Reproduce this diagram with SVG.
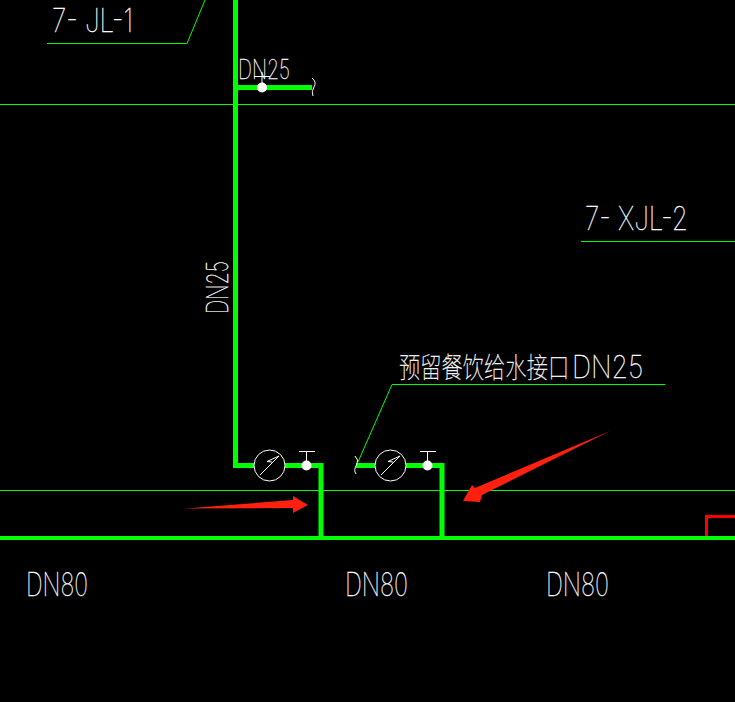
<svg xmlns="http://www.w3.org/2000/svg" width="735" height="702" viewBox="0 0 735 702">
<style>
.t{font-family:"Inter","Liberation Sans","Noto Sans CJK SC",sans-serif;fill:#fff;font-weight:100;stroke:#fff;stroke-width:.35}
.z{font-family:"Noto Sans CJK SC",sans-serif;fill:#fff;font-weight:100;stroke:#fff;stroke-width:.25}
.thin{fill:none;stroke:#00ff00;stroke-width:1}
.pipe{fill:none;stroke:#00ff00;stroke-width:5}
.w{fill:none;stroke:#fff;stroke-width:1}
.m{fill:#000;stroke:#fff;stroke-width:1}
</style>
<rect width="735" height="702" fill="#000"/>
<g id="connectors">
<path class="thin" d="M0 104.500H735M0 490.500H735M47 43.500H187L205 0M392 384.500H665M392 384.500L358 462M581 241.500H735"/>
<path class="pipe" d="M235.500 0V465.500H321V538M235.500 87.500H312M356 465.500H442V538"/>
<path d="M0 538H735" fill="none" stroke="#00ff00" stroke-width="4"/>
<path d="M706.500 536V516.500H735" fill="none" stroke="#ff0000" stroke-width="3"/>
<path class="w" d="M312 78Q317 82 314 87Q311 92 313 96M355 456Q359 460 357 464Q353 470 356 474"/>
</g>
<g id="meter-1"><circle class="m" cx="269.500" cy="465.500" r="15.500"/><path class="w" d="M260 475L279 456L267 461.500L272 462"/></g>
<g id="meter-2"><circle class="m" cx="390.500" cy="465.500" r="15.500"/><path class="w" d="M381 475L400 456L388 461.500L393 462"/></g>
<g id="valve-1"><path class="w" d="M299 451.500H315M306.500 451.500V462"/><circle cx="306.500" cy="465.500" r="5" fill="#fff"/></g>
<g id="valve-2"><path class="w" d="M420 451.500H436M427.500 451.500V462"/><circle cx="427.500" cy="465.500" r="5" fill="#fff"/></g>
<g id="valve-3"><path class="w" d="M254 76.500H270M262 72V84"/><circle cx="262" cy="87.500" r="5" fill="#fff"/></g>
<g id="arrow-1"><path d="M185 508.500L293 500L293 496L308 505L293 513L293 508Z" fill="#ff2010"/></g>
<g id="arrow-2"><path d="M610 431L482 495L480 502L463 501L472 485L475 488Z" fill="#ff2010"/></g>
<g id="labels">
<text class="t" x="52" y="32" font-size="33" textLength="81" lengthAdjust="spacingAndGlyphs">7- JL-1</text>
<text class="t" x="238" y="79" font-size="27" textLength="52" lengthAdjust="spacingAndGlyphs">DN25</text>
<text class="t" x="585" y="230" font-size="33" textLength="103" lengthAdjust="spacingAndGlyphs">7- XJL-2</text>
<text class="t" transform="translate(228 314) rotate(-90)" x="0" y="0" font-size="29" textLength="53" lengthAdjust="spacingAndGlyphs">DN25</text>
<text class="z" transform="translate(399 378) scale(.76 1)" font-size="28">预留餐饮给水接口</text>
<text class="t" transform="translate(572 378) scale(.86 1)" font-size="31">DN25</text>
<text class="t" x="26" y="596" font-size="32" textLength="62" lengthAdjust="spacingAndGlyphs">DN80</text>
<text class="t" x="345" y="596" font-size="32" textLength="63" lengthAdjust="spacingAndGlyphs">DN80</text>
<text class="t" x="546" y="596" font-size="32" textLength="63" lengthAdjust="spacingAndGlyphs">DN80</text>
</g>
</svg>
